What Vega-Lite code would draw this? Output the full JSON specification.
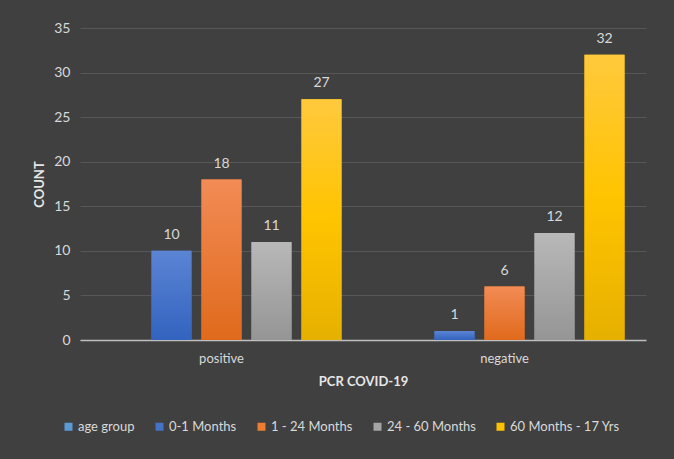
{
  "$schema": "https://vega.github.io/schema/vega-lite/v6.json",
  "width": 566,
  "height": 312,
  "autosize": {"type": "none"},
  "padding": {"left": 80, "top": 28, "right": 28, "bottom": 119},
  "background": "#404040",
  "data": {
    "values": [
      {"pcr": "positive", "group": "0-1 Months", "count": 10},
      {"pcr": "positive", "group": "1 - 24 Months", "count": 18},
      {"pcr": "positive", "group": "24 - 60 Months", "count": 11},
      {"pcr": "positive", "group": "60 Months - 17 Yrs", "count": 27},
      {"pcr": "negative", "group": "0-1 Months", "count": 1},
      {"pcr": "negative", "group": "1 - 24 Months", "count": 6},
      {"pcr": "negative", "group": "24 - 60 Months", "count": 12},
      {"pcr": "negative", "group": "60 Months - 17 Yrs", "count": 32}
    ]
  },
  "config": {
    "font": "Lato",
    "view": {"stroke": null},
    "axis": {"labelColor": "#d9d9d9", "titleColor": "#e6e6e6", "labelFont": "Lato", "titleFont": "Lato"}
  },
  "encoding": {
    "x": {
      "field": "pcr", "type": "nominal", "sort": ["positive", "negative"],
      "scale": {"paddingInner": 0, "paddingOuter": 0},
      "axis": {"title": "PCR COVID-19", "labelAngle": 0, "labelFontSize": 13, "labelPadding": 12, "ticks": false,
               "domainColor": "#bfbfbf", "domainWidth": 1.5, "titleFontSize": 13, "titleFontWeight": "bold", "titlePadding": 10}
    },
    "xOffset": {
      "field": "group", "type": "nominal",
      "scale": {"domain": ["age group", "0-1 Months", "1 - 24 Months", "24 - 60 Months", "60 Months - 17 Yrs"], "paddingInner": 0.2, "paddingOuter": 0.43}
    },
    "y": {
      "field": "count", "type": "quantitative",
      "scale": {"domain": [0, 35]},
      "axis": {"title": "COUNT", "values": [0, 5, 10, 15, 20, 25, 30, 35], "labelFontSize": 14, "labelPadding": 10, "ticks": false, "domain": false,
               "gridColor": "#575757", "gridWidth": 1, "titleFontSize": 13, "titleFontWeight": "bold", "titlePadding": 7}
    }
  },
  "layer": [
    {
      "mark": {"type": "bar"},
      "encoding": {
        "color": {
          "field": "group", "type": "nominal",
          "scale": {
            "domain": ["age group", "0-1 Months", "1 - 24 Months", "24 - 60 Months", "60 Months - 17 Yrs"],
            "range": ["#5b9bd5", "#4472c4", "#ed7d31", "#a5a5a5", "#ffc000"]
          },
          "legend": {
            "title": null, "orient": "none", "direction": "horizontal", "legendX": -18, "legendY": 392,
            "symbolType": "square", "symbolSize": 64, "symbolStrokeWidth": 0, "labelColor": "#d9d9d9", "labelFontSize": 13,
            "labelOffset": 3, "columnPadding": 18, "labelLimit": 200
          }
        }
      }
    },
    {
      "transform": [{"filter": "datum.group === '0-1 Months'"}],
      "mark": {"type": "bar", "color": {"gradient": "linear", "x1": 0, "y1": 0, "x2": 0, "y2": 1, "stops": [{"offset": 0, "color": "#5b84d4"}, {"offset": 1, "color": "#3363bf"}]}}
    },
    {
      "transform": [{"filter": "datum.group === '1 - 24 Months'"}],
      "mark": {"type": "bar", "color": {"gradient": "linear", "x1": 0, "y1": 0, "x2": 0, "y2": 1, "stops": [{"offset": 0, "color": "#f28b55"}, {"offset": 1, "color": "#e06a1c"}]}}
    },
    {
      "transform": [{"filter": "datum.group === '24 - 60 Months'"}],
      "mark": {"type": "bar", "color": {"gradient": "linear", "x1": 0, "y1": 0, "x2": 0, "y2": 1, "stops": [{"offset": 0, "color": "#b8b8b8"}, {"offset": 1, "color": "#959595"}]}}
    },
    {
      "transform": [{"filter": "datum.group === '60 Months - 17 Yrs'"}],
      "mark": {"type": "bar", "color": {"gradient": "linear", "x1": 0, "y1": 0, "x2": 0, "y2": 1, "stops": [{"offset": 0, "color": "#ffc93d"}, {"offset": 0.5, "color": "#ffc400"}, {"offset": 1, "color": "#e6b000"}]}}
    },
    {
      "mark": {"type": "text", "baseline": "bottom", "dy": -9, "fontSize": 14, "color": "#d9d9d9"},
      "encoding": {"text": {"field": "count", "type": "quantitative"}}
    }
  ]
}
